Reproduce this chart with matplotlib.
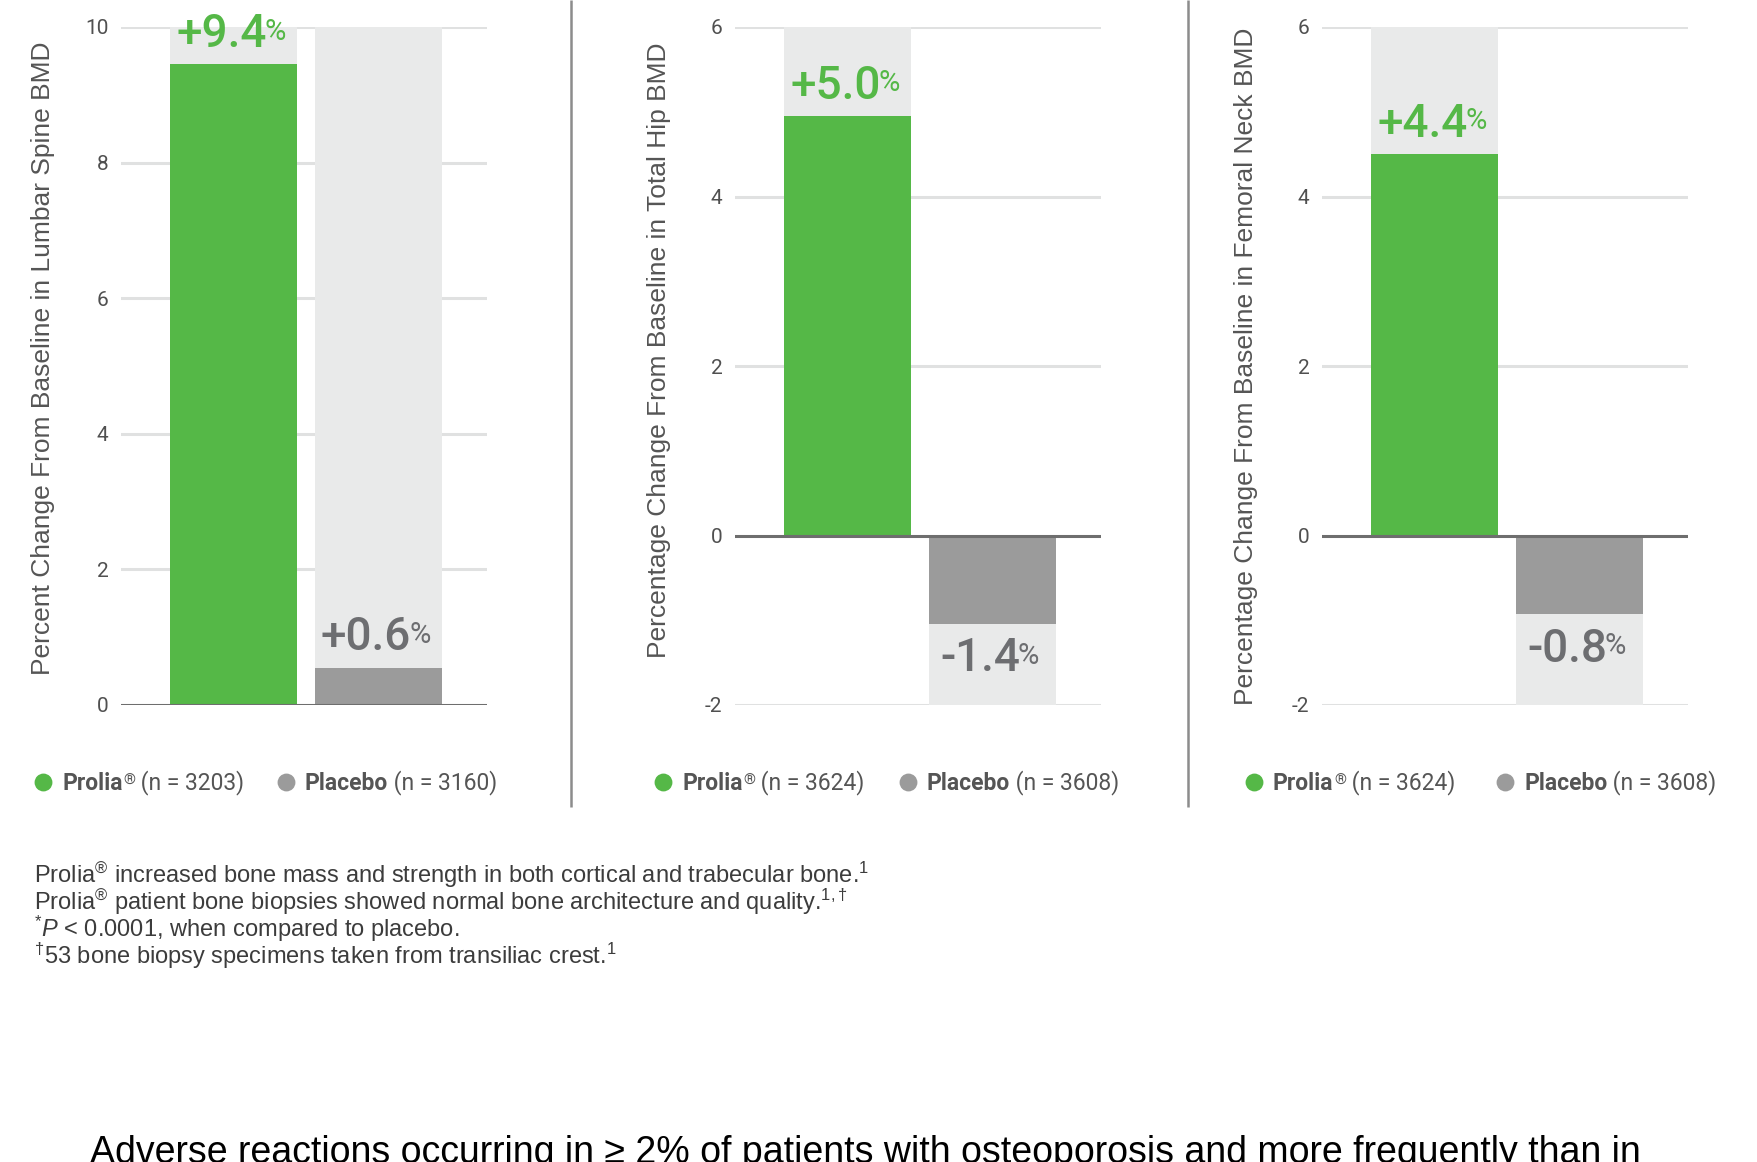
import matplotlib
matplotlib.use("Agg")
import matplotlib.pyplot as plt

plt.rcParams["mathtext.default"] = "regular"
plt.rcParams["mathtext.fontset"] = "custom"
plt.rcParams["mathtext.rm"] = "Liberation Sans"
plt.rcParams["mathtext.it"] = "Liberation Sans:italic"
plt.rcParams["mathtext.bf"] = "Liberation Sans:bold"

# ---- data ----
panel_ylabels = [
    "Percent Change From Baseline in Lumbar Spine BMD",
    "Percentage Change From Baseline in Total Hip BMD",
    "Percentage Change From Baseline in Femoral Neck BMD",
]
n_prolia = [3203, 3624, 3624]
n_placebo = [3160, 3608, 3608]
# bar heights as they are drawn in the picture
prolia_change = [9.45, 4.95, 4.5]
placebo_change = [0.55, -1.04, -0.93]
# percentages printed on the chart
prolia_label = ["+9.4", "+5.0", "+4.4"]
placebo_label = ["+0.6", "-1.4", "-0.8"]
y_limits = [(0, 10), (-2, 6), (-2, 6)]
y_ticks = [[0, 2, 4, 6, 8, 10], [-2, 0, 2, 4, 6], [-2, 0, 2, 4, 6]]

footnotes = [
    "Prolia$^{®}$ increased bone mass and strength in both cortical and trabecular bone.$^{1}$",
    "Prolia$^{®}$ patient bone biopsies showed normal bone architecture and quality.$^{1,†}$",
    "$^{*}\\mathit{P}$ < 0.0001, when compared to placebo.",
    "$^{†}$53 bone biopsy specimens taken from transiliac crest.$^{1}$",
]
bottom_text = ("Adverse reactions occurring in \u2265 2% of patients with osteoporosis "
               "and more frequently than in")

# ---- styling ----
GREEN = "#55B847"
GREY = "#9B9B9B"
BG = "#E9EAEA"
GRID = "#E0E1E1"
ZERO = "#6E6E6E"
TXT = "#555555"
NUM_GREY = "#6D6E71"

W, H = 1757, 1162
fig = plt.figure(figsize=(W / 100, H / 100), dpi=100)

# overlay in pixel coordinates for the decorations
ov = fig.add_axes([0, 0, 1, 1], zorder=5)
ov.set_xlim(0, W)
ov.set_ylim(H, 0)
ov.axis("off")

ax_left = [121, 735, 1322]
ax_w = 366
ax_top, ax_bot = 27, 705
bar_w = 0.88

for i in range(3):
    ax = fig.add_axes([ax_left[i] / W, 1 - ax_bot / H, ax_w / W, (ax_bot - ax_top) / H])
    ax.patch.set_alpha(0)
    lo, hi = y_limits[i]
    ax.set_xlim(-0.78, 1.75)
    ax.set_ylim(lo, hi)
    for s in ax.spines.values():
        s.set_visible(False)
    ax.set_xticks([])
    ax.set_yticks(y_ticks[i])
    ax.set_yticklabels([str(t) for t in y_ticks[i]], family="Roboto")
    ax.tick_params(axis="y", length=0, pad=9, labelsize=15, labelcolor="#505050")

    for t in y_ticks[i]:
        if t != 0:
            ax.axhline(t, color=GRID, lw=2.2, zorder=0)
    ax.axhline(0, color=ZERO, lw=2.2, zorder=4)

    vals = [prolia_change[i], placebo_change[i]]
    labs = [prolia_label[i], placebo_label[i]]
    cols = [GREEN, GREY]
    txt_cols = [GREEN, NUM_GREY]
    for x in range(2):
        v = vals[x]
        ax.bar(x, hi if v > 0 else lo, width=bar_w, color=BG, zorder=1)
        ax.bar(x, v, width=bar_w, color=cols[x], zorder=2)
        if v > 0:
            num = ax.annotate(labs[x], xy=(x, v), xytext=(-9, 6), textcoords="offset points",
                              ha="center", va="bottom", fontsize=33, family="Roboto",
                              fontweight="medium", color=txt_cols[x], zorder=6)
        else:
            num = ax.annotate(labs[x], xy=(x, v), xytext=(-9, -9), textcoords="offset points",
                              ha="center", va="top", fontsize=33, family="Roboto",
                              fontweight="medium", color=txt_cols[x], zorder=6)
        ax.annotate("%", xy=(1, 1), xycoords=num, xytext=(-1.5, -4), textcoords="offset points",
                    ha="left", va="top", fontsize=21, family="Roboto",
                    color=txt_cols[x], zorder=6)

# y axis titles
ylab_pos = [(43, 358), (659, 350), (1246, 366)]
for (x, y), lab in zip(ylab_pos, panel_ylabels):
    ov.text(x, y, lab, rotation=90, ha="center", va="center", fontsize=19,
            family="Liberation Sans", color=TXT)

# separators between panels
for x in [571, 1188]:
    ov.plot([x, x], [0, 807], color="#8C8C8C", lw=1.8, solid_capstyle="butt")

# legends
legend_x = [(43, 286), (663, 908), (1254, 1505)]
leg_y = 782
for i in range(3):
    items = [("Prolia", True, n_prolia[i], GREEN), ("Placebo", False, n_placebo[i], GREY)]
    for (name, reg, n, c), dot_x in zip(items, legend_x[i]):
        ov.scatter([dot_x], [leg_y], s=165, color=c, linewidths=0, zorder=6)
        t1 = ov.text(dot_x + 19, leg_y + 8, name, ha="left", va="baseline", fontsize=16.5,
                     family="Roboto", fontweight="bold", color=TXT)
        prev = t1
        if reg:
            prev = ov.annotate("®", xy=(1, 1), xycoords=t1, xytext=(0.5, -1),
                               textcoords="offset points", ha="left", va="top",
                               fontsize=11, family="Roboto", color=TXT)
        ov.annotate(f" (n = {n})", xy=(1, 0), xycoords=(prev, t1), ha="left", va="bottom",
                    fontsize=16.5, family="Roboto", color=TXT)

# footnotes
for k, line in enumerate(footnotes):
    ov.text(34, 883 + 27 * k, line, ha="left", va="baseline", fontsize=17,
            family="Liberation Sans", color="#3C3C3C")

# heading of the next section, cut by the bottom edge as in the source
ov.text(90, 1163, bottom_text, ha="left", va="baseline", fontsize=27,
        family="Liberation Sans", color="black")

fig.savefig("out.png", dpi=100)
